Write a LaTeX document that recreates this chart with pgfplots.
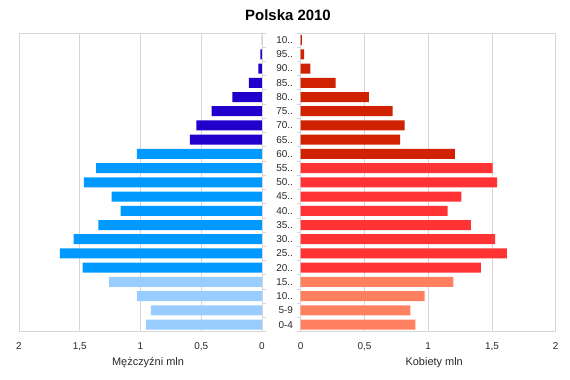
\documentclass[border=0pt]{standalone}
\usepackage{pgfplots}
\pgfplotsset{compat=1.18}
\usepackage{fontspec}
\setmainfont{Liberation Sans}
\definecolor{mold}{RGB}{34,0,204}
\definecolor{mwork}{RGB}{0,153,255}
\definecolor{myoung}{RGB}{153,204,255}
\definecolor{fold}{RGB}{208,34,0}
\definecolor{fwork}{RGB}{255,51,51}
\definecolor{fyoung}{RGB}{255,128,96}
\definecolor{gridgray}{RGB}{214,214,214}
\definecolor{txt}{RGB}{40,40,40}
\begin{document}
\begin{tikzpicture}
\useasboundingbox (0bp,0bp) rectangle (570bp,380bp);
\node[font=\bfseries\fontsize{15}{18}\selectfont] at (288bp,365bp) {Polska 2010};
\pgfplotsset{pyr/.style={
  scale only axis, xbar, bar width=10bp,
  ymin=-0.5, ymax=20.5, xmin=0, xmax=2,
  height=298.7bp,
  xtick={0,0.5,1,1.5,2}, xticklabels={0,{0,5},1,{1,5},2},
  xmajorgrids, grid style={draw=gridgray, line width=0.8pt},
  axis line style={draw=gridgray, line width=0.8pt},
  major x tick style={draw=none},
  ytick={0,...,20}, major y tick style={draw=none},
  minor ytick={-0.5,0.5,...,20.5},
  minor tick length=4bp,
  minor y tick style={draw=gridgray, line width=0.8pt},
  tick align=outside,
  xticklabel style={font=\fontsize{10}{12}\selectfont, text=txt},
  xticklabel shift=3bp,
  yticklabel style={font=\fontsize{10}{12}\selectfont, text=txt},
  label style={font=\fontsize{11}{13}\selectfont, text=txt},
  every axis plot/.append style={bar shift=0pt, draw=none},
}}
\begin{axis}[pyr, at={(19bp,48.3bp)}, anchor=south west, width=243bp,
  x dir=reverse, ytick pos=right, yticklabels={},
  xlabel={Mężczyźni mln},
  xlabel style={at={(axis description cs:0.5,-0.105)}, anchor=center, xshift=7.5bp}]
\addplot[fill=myoung] coordinates {(0.955,0) (0.914,1) (1.029,2) (1.259,3)};
\addplot[fill=mwork] coordinates {(1.476,4) (1.663,5) (1.550,6) (1.347,7) (1.163,8) (1.237,9) (1.465,10) (1.366,11) (1.029,12)};
\addplot[fill=mold] coordinates {(0.593,13) (0.540,14) (0.414,15) (0.244,16) (0.107,17) (0.030,18) (0.014,19) (0.002,20)};
\end{axis}
\begin{axis}[pyr, at={(300.7bp,48.3bp)}, anchor=south west, width=255bp,
  ytick pos=left,
  yticklabels={0-4,5-9,10..,15..,20..,25..,30..,35..,40..,45..,50..,55..,60..,65..,70..,75..,80..,85..,90..,95..,10..},
  xlabel={Kobiety mln},
  xlabel style={at={(axis description cs:0.5,-0.105)}, anchor=center, xshift=6bp}]
\addplot[fill=fyoung] coordinates {(0.899,0) (0.860,1) (0.972,2) (1.197,3)};
\addplot[fill=fwork] coordinates {(1.414,4) (1.618,5) (1.524,6) (1.335,7) (1.153,8) (1.260,9) (1.540,10) (1.505,11)};
\addplot[fill=fold] coordinates {(1.210,12) (0.780,13) (0.815,14) (0.720,15) (0.535,16) (0.274,17) (0.075,18) (0.026,19) (0.010,20)};
\end{axis}
\end{tikzpicture}
\end{document}
